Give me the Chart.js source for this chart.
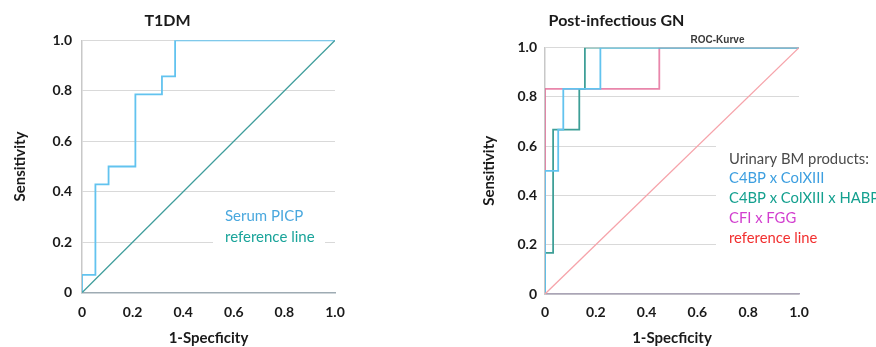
<!DOCTYPE html>
<html>
<head>
<meta charset="utf-8">
<script src="https://cdn.jsdelivr.net/npm/chart.js@4.4.1/dist/chart.umd.min.js"></script>
<style>
  html, body { margin: 0; padding: 0; background: #ffffff; }
  body { width: 876px; height: 347px; position: relative; overflow: hidden; }
  .wrap { position: absolute; top: 0; height: 347px; }
  #w1 { left: 0; width: 410px; }
  #w2 { left: 434px; width: 442px; }
  canvas { display: block; }
</style>
</head>
<body>
<div class="wrap" id="w1"><canvas id="c1" width="410" height="347"></canvas></div>
<div class="wrap" id="w2"><canvas id="c2" width="442" height="347"></canvas></div>
<script>
// ---- Data ----
const xTickLabels = ['0', '0.2', '0.4', '0.6', '0.8', '1.0'];
const yTickLabels = ['0', '0.2', '0.4', '0.6', '0.8', '1.0'];

// T1DM: Serum PICP ROC curve (1-specificity, sensitivity)
const picpFpr = [0, 0, 0.053, 0.053, 0.105, 0.105, 0.211, 0.211, 0.316, 0.316, 0.368, 0.368, 1];
const picpTpr = [0, 0.071, 0.071, 0.429, 0.429, 0.5, 0.5, 0.786, 0.786, 0.857, 0.857, 1, 1];

// Post-infectious GN
const c4bpColFpr = [0, 0, 0.052, 0.052, 0.072, 0.072, 0.218, 0.218, 1];
const c4bpColTpr = [0, 0.5, 0.5, 0.667, 0.667, 0.833, 0.833, 1, 1];
const c4bpColHabFpr = [0, 0, 0.032, 0.032, 0.135, 0.135, 0.157, 0.157, 1];
const c4bpColHabTpr = [0, 0.167, 0.167, 0.667, 0.667, 0.833, 0.833, 1, 1];
const cfiFggFpr = [0, 0, 0.45, 0.45, 1];
const cfiFggTpr = [0, 0.833, 0.833, 1, 1];

const refFpr = [0, 1];
const refTpr = [0, 1];

const leftLegend = ['Serum PICP', 'reference line'];
const rightLegend = ['Urinary BM products:', 'C4BP x ColXIII', 'C4BP x ColXIII x HABP2', 'CFI x FGG', 'reference line'];

// ---- helpers ----
function pts(xs, ys) { return xs.map((x, i) => ({ x: x, y: ys[i] })); }
const FONT = 'Lato, "Open Sans", sans-serif';

const overlayPlugin = {
  id: 'overlay',
  beforeDatasetsDraw(chart, args, opts) {
    const ctx = chart.ctx;
    if (opts.box) {
      ctx.save();
      ctx.fillStyle = '#ffffff';
      ctx.fillRect(opts.box[0], opts.box[1], opts.box[2], opts.box[3]);
      ctx.restore();
    }
  },
  afterDraw(chart, args, opts) {
    const ctx = chart.ctx;
    ctx.save();
    ctx.textAlign = 'left';
    ctx.textBaseline = 'middle';
    ctx.font = opts.font;
    (opts.items || []).forEach((it, i) => {
      ctx.fillStyle = it.color;
      ctx.fillText(it.text, opts.x, opts.y + i * opts.step);
    });
    if (opts.note) {
      ctx.font = opts.note.font;
      ctx.fillStyle = opts.note.color;
      ctx.textAlign = 'center';
      ctx.fillText(opts.note.text, opts.note.x, opts.note.y);
    }
    ctx.restore();
  }
};

function scales(yWidth, xHeight, yTitlePad, yTickPad, xTickPad, xAxisColor) {
  return {
    x: {
      type: 'linear', min: 0, max: 1,
      ticks: {
        stepSize: 0.2, padding: xTickPad, color: '#1a1a1a',
        font: { family: FONT, size: 14, weight: 'bold' },
        callback: (v, i) => xTickLabels[i]
      },
      grid: { display: false, drawTicks: false },
      border: { display: true, color: xAxisColor, width: 1.5 },
      title: {
        display: true, text: '1-Specficity', color: '#1a1a1a',
        font: { family: FONT, size: 15, weight: 'bold' },
        padding: { top: 0, bottom: 0 }
      },
      afterFit: (s) => { s.height = xHeight; }
    },
    y: {
      type: 'linear', min: 0, max: 1,
      ticks: {
        stepSize: 0.2, padding: yTickPad, color: '#1a1a1a',
        font: { family: FONT, size: 14, weight: 'bold' },
        callback: (v, i) => yTickLabels[i]
      },
      grid: { display: true, drawTicks: false, color: '#d9d9d9', lineWidth: 1 },
      border: { display: true, color: '#c8c8c8', width: 1.5 },
      title: {
        display: true, text: 'Sensitivity', color: '#1a1a1a',
        font: { family: FONT, size: 15, weight: 'bold' },
        padding: { top: yTitlePad, bottom: 0 }
      },
      afterFit: (s) => { s.width = yWidth; }
    }
  };
}

function lineDs(label, xs, ys, color, width) {
  return {
    label: label, data: pts(xs, ys), showLine: true, fill: false,
    borderColor: color, borderWidth: width, pointRadius: 0, pointHoverRadius: 0,
    tension: 0
  };
}

const common = {
  responsive: false, animation: false, events: [],
  plugins: { legend: { display: false }, tooltip: { enabled: false } }
};

new Chart(document.getElementById('c1'), {
  type: 'scatter',
  data: {
    datasets: [
      lineDs('reference line', refFpr, refTpr, '#3f9d9c', 1.3),
      lineDs('Serum PICP', picpFpr, picpTpr, '#62c3ef', 1.8)
    ]
  },
  options: Object.assign({}, common, {
    layout: { padding: { left: 0, right: 75, top: 0, bottom: 0 } },
    scales: scales(82, 54.3, 11.6, 10, 11, '#9eabb3'),
    plugins: {
      legend: { display: false }, tooltip: { enabled: false },
      title: {
        display: true, text: 'T1DM', color: '#1a1a1a',
        font: { family: FONT, size: 16, weight: 'bold' },
        padding: { top: 11, bottom: 10.1 }
      },
      overlay: {
        box: [213, 204, 112, 46],
        font: '15px ' + FONT, x: 225, y: 216, step: 21,
        items: [
          { text: leftLegend[0], color: '#4aa8de' },
          { text: leftLegend[1], color: '#1aa49a' }
        ]
      }
    }
  }),
  plugins: [overlayPlugin]
});

new Chart(document.getElementById('c2'), {
  type: 'scatter',
  data: {
    datasets: [
      lineDs('reference line', refFpr, refTpr, '#f6a3aa', 1.3),
      lineDs('C4BP x ColXIII', c4bpColFpr, c4bpColTpr, '#62c3ef', 1.8),
      lineDs('C4BP x ColXIII x HABP2', c4bpColHabFpr, c4bpColHabTpr, '#3e9f97', 1.8),
      lineDs('CFI x FGG', cfiFggFpr, cfiFggTpr, 'rgba(220,60,120,0.62)', 1.8)
    ]
  },
  options: Object.assign({}, common, {
    layout: { padding: { left: 0, right: 77, top: 0, bottom: 0 } },
    scales: scales(111, 53, 46.6, 8, 10, '#aaa4b6'),
    plugins: {
      legend: { display: false }, tooltip: { enabled: false },
      title: {
        display: true, text: 'Post-infectious GN', color: '#1a1a1a',
        font: { family: FONT, size: 16, weight: 'bold' },
        padding: { top: 11, bottom: 17.5 }
      },
      overlay: {
        box: [282, 137, 160, 116],
        font: '14.8px ' + FONT, x: 295, y: 159, step: 19.7,
        items: [
          { text: rightLegend[0], color: '#4a4a4a' },
          { text: rightLegend[1], color: '#3d9fe0' },
          { text: rightLegend[2], color: '#14a08f' },
          { text: rightLegend[3], color: '#d23fcf' },
          { text: rightLegend[4], color: '#f23030' }
        ],
        note: { text: 'ROC-Kurve', x: 283.5, y: 40, color: '#3a3a3a',
                font: 'bold 10px "Liberation Sans", Arial, sans-serif' }
      }
    }
  }),
  plugins: [overlayPlugin]
});
</script>
</body>
</html>
